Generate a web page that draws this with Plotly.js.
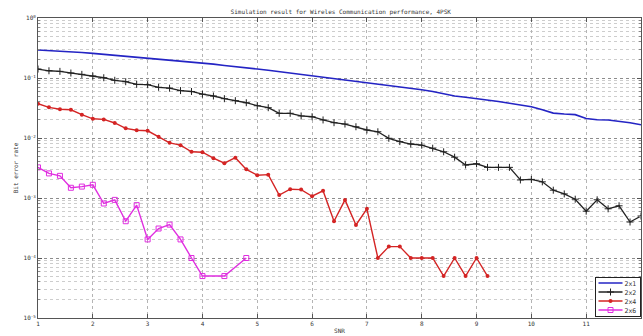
<!DOCTYPE html>
<html>
<head>
<meta charset="utf-8">
<script src="https://cdn.plot.ly/plotly-3.0.1.min.js"></script>
<style>html,body{margin:0;padding:0;background:#fff;}#chart{width:643px;height:336px;}</style>
</head>
<body>
<div id="chart"></div>
<script>
var snrFull = [1.0,1.2,1.4,1.6,1.8,2.0,2.2,2.4,2.6,2.8,3.0,3.2,3.4,3.6,3.8,4.0,4.2,4.4,4.6,4.8,5.0,5.2,5.4,5.6,5.8,6.0,6.2,6.4,6.6,6.8,7.0,7.2,7.4,7.6,7.8,8.0,8.2,8.4,8.6,8.8,9.0,9.2,9.4,9.6,9.8,10.0,10.2,10.4,10.6,10.8,11.0,11.2,11.4,11.6,11.8,12.0];
var ber2x1 = [0.293,0.288,0.283,0.275,0.266,0.257,0.248,0.241,0.232,0.223,0.215,0.207,0.200,0.193,0.185,0.178,0.170,0.162,0.156,0.148,0.141,0.135,0.128,0.122,0.116,0.110,0.105,0.100,0.0944,0.0902,0.0851,0.0809,0.0767,0.0724,0.0684,0.0638,0.0596,0.0550,0.0501,0.0479,0.0457,0.0437,0.0407,0.0380,0.0355,0.0331,0.0295,0.0260,0.0251,0.0245,0.0211,0.0202,0.0200,0.0191,0.0180,0.0166];
var ber2x2 = [0.141,0.132,0.129,0.121,0.115,0.108,0.101,0.0916,0.0867,0.0785,0.0773,0.0700,0.0676,0.0617,0.0596,0.0537,0.0501,0.0452,0.0419,0.0387,0.0345,0.0320,0.0258,0.0258,0.0233,0.0226,0.0200,0.0180,0.0171,0.0154,0.0136,0.0127,0.00989,0.00871,0.00794,0.00759,0.00676,0.00589,0.00479,0.00355,0.00372,0.00324,0.00324,0.00324,0.00200,0.00204,0.00186,0.00135,0.00117,0.000955,0.000603,0.000933,0.000661,0.000741,0.000398,0.000501];
var snr2x4 = [1.0,1.2,1.4,1.6,1.8,2.0,2.2,2.4,2.6,2.8,3.0,3.2,3.4,3.6,3.8,4.0,4.2,4.4,4.6,4.8,5.0,5.2,5.4,5.6,5.8,6.0,6.2,6.4,6.6,6.8,7.0,7.2,7.4,7.6,7.8,8.0,8.2,8.4,8.6,8.8,9.0,9.2];
var ber2x4 = [0.0372,0.0324,0.0302,0.0295,0.0245,0.0209,0.0204,0.0178,0.0145,0.0135,0.0132,0.0105,0.0083,0.0076,0.0059,0.0058,0.0046,0.0038,0.0047,0.0030,0.0024,0.00245,0.00112,0.0014,0.00138,0.00107,0.00132,0.00041,0.00093,0.000355,0.00066,0.0001,0.000155,0.000155,0.0001,0.0001,0.0001,0.00005,0.0001,0.00005,0.0001,0.00005];
var snr2x6 = [1.0,1.2,1.4,1.6,1.8,2.0,2.2,2.4,2.6,2.8,3.0,3.2,3.4,3.6,3.8,4.0,4.4,4.8];
var ber2x6 = [0.00324,0.00257,0.00234,0.00148,0.00155,0.00166,0.00081,0.00093,0.00041,0.00076,0.000204,0.00031,0.00036,0.000204,0.0001,0.00005,0.00005,0.0001];
var seriesNames = ['2x1','2x2','2x4','2x6'];
var yTickVals = [1,0.1,0.01,0.001,0.0001,0.00001];
var yTickText = ['10<sup>0</sup>','10<sup>-1</sup>','10<sup>-2</sup>','10<sup>-3</sup>','10<sup>-4</sup>','10<sup>-5</sup>'];
var xTickVals = [1,2,3,4,5,6,7,8,9,10,11,12];

var traces = [
  {x: snrFull, y: ber2x1, name: seriesNames[0], mode: 'lines', line: {color: '#2424c4', width: 1.6}},
  {x: snrFull, y: ber2x2, name: seriesNames[1], mode: 'lines+markers', line: {color: '#222222', width: 1.3},
   marker: {symbol: 'cross-thin-open', size: 5, line: {width: 1, color: '#222222'}}},
  {x: snr2x4, y: ber2x4, name: seriesNames[2], mode: 'lines+markers', line: {color: '#d42424', width: 1.4},
   marker: {symbol: 'circle', size: 4, color: '#d42424'}},
  {x: snr2x6, y: ber2x6, name: seriesNames[3], mode: 'lines+markers', line: {color: '#e02ee0', width: 1.4},
   marker: {symbol: 'square-open', size: 5, line: {width: 1, color: '#e02ee0'}}}
];

var layout = {
  width: 643, height: 336,
  margin: {l: 38, r: 2, t: 18, b: 18, pad: 0},
  paper_bgcolor: '#ffffff', plot_bgcolor: '#ffffff',
  font: {family: 'DejaVu Sans Mono', size: 6, color: '#333'},
  title: {text: 'Simulation result for Wireles Communication performance, 4PSK', x: 0.53, xanchor: 'center', y: 0.965, yanchor: 'middle', font: {family: 'DejaVu Sans Mono', size: 6, color: '#333'}},
  showlegend: true,
  legend: {x: 0.997, xanchor: 'right', y: 0.006, yanchor: 'bottom', bgcolor: '#ffffff', bordercolor: '#222', borderwidth: 1,
    font: {family: 'DejaVu Sans Mono', size: 6.5, color: '#333'}, tracegroupgap: 0, itemwidth: 30},
  xaxis: {
    range: [1, 12], tickmode: 'array', tickvals: xTickVals,
    showgrid: true, gridcolor: '#b4b4b4', griddash: 'dot', gridwidth: 1,
    zeroline: false, showline: true, mirror: 'ticks', linecolor: '#555', linewidth: 1,
    ticks: 'inside', ticklen: 4, tickcolor: '#555',
    tickfont: {family: 'DejaVu Sans Mono', size: 6, color: '#333'},
    title: {text: 'SNR', standoff: 2, font: {family: 'DejaVu Sans Mono', size: 6, color: '#333'}}
  },
  yaxis: {
    type: 'log', range: [-5, 0], tickmode: 'array', tickvals: yTickVals, ticktext: yTickText,
    showgrid: true, gridcolor: '#8c8c8c', griddash: 'dot', gridwidth: 1,
    minor: {dtick: 'D1', showgrid: true, gridcolor: '#cdcdcd', griddash: 'dot', gridwidth: 1, ticks: 'inside', ticklen: 2, tickcolor: '#888'},
    zeroline: false, showline: true, mirror: 'ticks', linecolor: '#555', linewidth: 1,
    ticks: 'inside', ticklen: 4, tickcolor: '#555',
    tickfont: {family: 'DejaVu Sans Mono', size: 6, color: '#333'},
    title: {text: 'Bit error rate', standoff: 4, font: {family: 'DejaVu Sans Mono', size: 6, color: '#333'}}
  }
};

Plotly.newPlot('chart', traces, layout, {displayModeBar: false, staticPlot: true}).then(function (gd) {
  // compact the legend to MATLAB-like spacing
  var leg = gd.querySelector('.legend');
  if (!leg) return;
  var rows = leg.querySelectorAll('.traces');
  var rowH = 9, top = 6, textX = 29, maxW = 0;
  rows.forEach(function (r, i) {
    var m = /translate\(([-\d.e]+)[ ,]+([-\d.e]+)\)/.exec(r.getAttribute('transform') || '');
    var tx = m ? m[1] : 0;
    r.setAttribute('transform', 'translate(' + tx + ',' + (top + i * rowH) + ')');
    r.querySelectorAll('.legendlines path').forEach(function (p) { p.setAttribute('d', 'M3,0h24'); });
    r.querySelectorAll('.legendpoints path.scatterpts').forEach(function (p) { p.setAttribute('transform', 'translate(15,0)'); });
    var t = r.querySelector('.legendtext');
    if (t) {
      t.setAttribute('x', textX);
      var w = t.getComputedTextLength ? t.getComputedTextLength() : 12;
      if (w > maxW) maxW = w;
    }
    var tog = r.querySelector('.legendtoggle');
    if (tog) { tog.setAttribute('height', rowH); tog.setAttribute('y', -rowH / 2); }
  });
  var W = Math.round(textX + maxW + 4), H = top + rows.length * rowH - 3;
  var bg = leg.querySelector('.bg');
  if (bg) { bg.setAttribute('width', W); bg.setAttribute('height', H); }
  var fl = gd._fullLayout, xs = fl._size;
  var right = xs.l + xs.w - 1.5, bottom = xs.t + xs.h - 2;
  leg.setAttribute('transform', 'translate(' + (right - W) + ',' + (bottom - H) + ')');
});
</script>
</body>
</html>
